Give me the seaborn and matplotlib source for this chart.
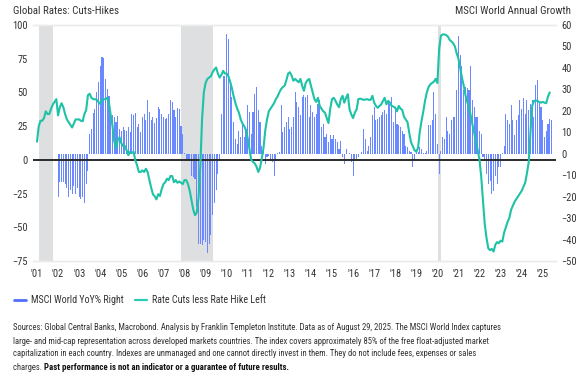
import numpy as np
import pandas as pd
import matplotlib
matplotlib.use("Agg")
import matplotlib.pyplot as plt
import seaborn as sns
from matplotlib import font_manager as fm
from matplotlib.lines import Line2D

# ---------------- data (monthly) ----------------
# Rate cuts less rate hikes (left axis), Jan 2001 .. May 2025
line_2001 = [13.5, 25, 29, 29, 31, 36, 34, 34, 38, 41, 43, 45]
line_2002 = [33, 39, 42, 39, 34, 30, 28, 26, 24, 27, 30, 30]
line_2003 = [30, 29, 28.6, 34, 37, 48, 49, 46, 45, 45, 44.5, 43]
line_2004 = [41.5, 44.5, 45, 45, 46, 42, 33, 25, 14, 8.5, 14.8, 16.8]
line_2005 = [12.3, 10.3, 10.3, 7.2, 3.5, 6, 5.2, 6, -0.3, -4, -9, -9]
line_2006 = [-7.8, -9, -6.6, -9, -15, -20.5, -25.5, -27, -29.3, -25.5, -26.8, -21.7]
line_2007 = [-18, -16.6, -14, -15, -12, -12, -16.6, -15, -17, -16, -17, -18]
line_2008 = [-15, -15, -18, -23, -30, -37, -41, -39, -28, -5, 30, 50]
line_2009 = [57, 60, 61, 62, 65, 67, 68.5, 64, 61, 63, 66, 64]
line_2010 = [64, 62, 58, 53, 47, 42, 38, 35, 30, 27, 25, 22]
line_2011 = [16, 8, 0, -1.5, -2.6, -5, -9, -6, 1, 9, 22, 30]
line_2012 = [36, 38, 40, 42, 45, 47, 50, 52.5, 54, 55, 59, 64]
line_2013 = [65, 62.5, 58.7, 60, 58.7, 57.5, 60, 55, 51.2, 57, 59, 60]
line_2014 = [55, 50, 45, 43, 46, 40, 38, 36, 35, 31, 27.3, 38]
line_2015 = [45, 46, 43.7, 41, 39, 45, 47.5, 42.4, 46, 48.7, 37.4, 33.6]
line_2016 = [31, 35, 37.4, 45, 45.4, 45, 44.5, 44.7, 45, 44.5, 44.5, 47.5]
line_2017 = [42.5, 40, 38.6, 40, 41, 43.7, 46, 41.2, 43.7, 42.4, 40, 39.5]
line_2018 = [38.6, 36, 40, 38, 37, 32, 29.9, 28, 20, 13, 10, 7.2]
line_2019 = [6, 9, 21, 29, 36, 44, 50, 54, 56, 57, 58, 60]
line_2020 = [57, 82, 92, 93, 93, 92.5, 91.4, 89, 87.7, 86.5, 84, 79]
line_2021 = [75, 68, 61, 55, 48, 43, 39, 33, 26, 20, 13, 7]
line_2022 = [0, -13, -30, -48, -58, -65.6, -67, -66, -68, -63, -61, -61.8]
line_2023 = [-60, -60.6, -54, -50, -46, -43, -37, -34, -31, -29, -27, -25]
line_2024 = [-23, -20, -17, -10, -2, 20, 40, 43.7, 44, 43.7, 43, 42.4]
line_2025 = [43, 42.4, 42, 47, 50]

# MSCI World YoY % (right axis), Jan 2002 .. Jun 2025
bar_2002 = [-20, -13, -13, -13, -14, -16, -20, -17, -19, -15, -19, -16]
bar_2003 = [-20, -21, -20, -23, -14, -8, 9.3, 11.6, 19, 21, 29, 33.6]
bar_2004 = [40.7, 45, 44.7, 35, 30, 27, 21, 18, 17, 15, 17.5, 11.6]
bar_2005 = [10.8, 12.4, 11.2, 10.8, 12.4, 10, 18.7, 18, 19, 12.4, 14, 10]
bar_2006 = [17.1, 18.7, 15.9, 25, 19.5, 15.9, 17.1, 14.3, 16.8, 21.9, 21, 18.7]
bar_2007 = [17, 16.4, 16.8, 18.7, 25, 24, 20.6, 17, 21.5, 21, 13, 9.3]
bar_2008 = [0.5, -2.5, -2.5, -3.3, -10.4, -11, -12, -25, -42, -42, -42.6, -40]
bar_2009 = [-41, -46.5, -42, -38, -28.6, -23, -16.7, -9.6, -3.3, 18.7, 36, 36]
bar_2010 = [55.7, 53.3, 32, 26.6, 14.8, 6.9, 4.6, 10.8, 7.7, 14, 7.7, 11.6]
bar_2011 = [22.6, 19.5, 9.3, 19.5, 28, 31.3, 20.3, 14.8, 3.8, 2.2, -5, -1.7]
bar_2012 = [-1, -3, -4, -10.4, -3.3, 0.5, 1, 22.6, 10, 12.4, 14.8, 17]
bar_2013 = [11.6, 12.4, 17, 29, 24, 22, 18, 26.6, 27.4, 26.6, 27.4, 17]
bar_2014 = [22.6, 19.5, 17, 18.7, 23.4, 25, 12.4, 14, 7.7, 9.3, 5.3, 8.5]
bar_2015 = [6.9, 8.5, 6.9, 5.3, 2.2, 6.1, -1.7, -4.6, 2.2, 0, 0.3, -4]
bar_2016 = [-10.4, -3.3, -2.5, -1.7, 0, 0.6, 11.6, 6.9, 1.4, 3.8, 7.7, 18]
bar_2017 = [22, 15.6, 16.4, 17, 18, 19.5, 20.3, 18.7, 24, 23.4, 26.6, 14.8]
bar_2018 = [21, 14, 13.2, 12.4, 10.8, 9.3, 3.8, 3, 1.4, 0.6, -6.4, -3.3]
bar_2019 = [0.6, 0.6, 3, 2.2, 0.5, 0.5, 1.4, 13.2, 13.2, 15.6, 29, 18.7]
bar_2020 = [4.6, -9.6, 1.4, 7.7, 6.9, 17, 10.8, 9.3, 15.6, 17, 17, 29.7]
bar_2021 = [55, 46, 40.7, 29.7, 31.3, 30.5, 29.7, 40.7, 25, 21.9, 17, 17]
bar_2022 = [10.8, 9.3, -1.7, -3.3, -9.6, -14.3, -12.7, -19, -17.5, -10.4, -14.3, -6.4]
bar_2023 = [-6.4, 0.5, 3.8, 18.7, 15.6, 14, 22.6, 15.6, 8.5, 15.6, 18, 25]
bar_2024 = [21, 25.8, 18.7, 25, 20.3, 23.4, 25, 17, 32, 34.4, 24.2, 21.9]
bar_2025 = [15.6, 7.7, 10.8, 14, 16.4, 15.6]

year_labels = ["'01", "'02", "'03", "'04", "'05", "'06", "'07", "'08", "'09", "'10",
               "'11", "'12", "'13", "'14", "'15", "'16", "'17", "'18", "'19", "'20",
               "'21", "'22", "'23", "'24", "'25"]
recessions = [(2001.09, 2001.74), (2007.83, 2009.33), (2020.02, 2020.17)]

line_vals = sum([line_2001, line_2002, line_2003, line_2004, line_2005, line_2006,
                 line_2007, line_2008, line_2009, line_2010, line_2011, line_2012,
                 line_2013, line_2014, line_2015, line_2016, line_2017, line_2018,
                 line_2019, line_2020, line_2021, line_2022, line_2023, line_2024,
                 line_2025], [])
bar_vals = sum([bar_2002, bar_2003, bar_2004, bar_2005, bar_2006, bar_2007, bar_2008,
                bar_2009, bar_2010, bar_2011, bar_2012, bar_2013, bar_2014, bar_2015,
                bar_2016, bar_2017, bar_2018, bar_2019, bar_2020, bar_2021, bar_2022,
                bar_2023, bar_2024, bar_2025], [])

line_df = pd.DataFrame({"t": 2001 + np.arange(len(line_vals)) / 12.0, "v": line_vals})
bar_df = pd.DataFrame({"t": 2002 + np.arange(len(bar_vals)) / 12.0, "v": bar_vals})

# ---------------- style ----------------
sns.set_theme(style="white")
avail = {f.name for f in fm.fontManager.ttflist}
narrow = next((f for f in ["Roboto Condensed", "Liberation Sans Narrow", "Roboto"]
               if f in avail), "DejaVu Sans")
plt.rcParams["font.family"] = [narrow, "DejaVu Sans"]

BLUE = "#6A88FF"
TEAL = "#1EC2A6"
TXT = "#333333"

fig = plt.figure(figsize=(5.85, 3.83), dpi=100)
ax = fig.add_axes([33 / 585, 1 - 261 / 383, (556 - 33) / 585, (261 - 25) / 383])
ax2 = ax.twinx()

# recession shading
for a, b in recessions:
    ax.axvspan(a, b, color="#DEDFE1", lw=0, zorder=0)

# bars (right axis values) on ax
ax.bar(bar_df["t"], bar_df["v"], width=0.62 / 12, color=BLUE, linewidth=0, zorder=2)
ax.set_ylim(-50, 60)
ax.set_yticks(np.arange(-50, 61, 10))
ax.yaxis.tick_right()
ax.yaxis.set_label_position("right")

# line (left axis values) on ax2
ax2.axhline(0, color="#2b2b2b", lw=1.4, zorder=1)
sns.lineplot(data=line_df, x="t", y="v", ax=ax2, color=TEAL, lw=1.5, zorder=3,
             estimator=None, sort=False)
ax2.set_ylim(-75, 100)
ax2.set_yticks(np.arange(-75, 101, 25))
ax2.yaxis.tick_left()
ax2.yaxis.set_label_position("left")

ax.set_xlim(2000.81, 2025.63)
ax.set_xticks(np.arange(2001, 2026))
ax.set_xticklabels(year_labels)
for a in (ax, ax2):
    a.set_xlabel("")
    a.set_ylabel("")
    for s in ["left", "right"]:
        a.spines[s].set_visible(False)
    for s in ["top", "bottom"]:
        a.spines[s].set_color("#EBEBEB")
        a.spines[s].set_linewidth(1.0)
    a.tick_params(length=0, labelsize=7.5, colors=TXT)
ax.tick_params(axis="y", pad=4)
ax2.tick_params(axis="y", pad=4)
ax.tick_params(axis="x", pad=6)
ax.grid(False)
ax2.grid(False)

# titles
fig.text(13 / 585, 1 - 11 / 383, "Global Rates: Cuts-Hikes", fontsize=7.8, color=TXT,
         ha="left", va="center")
fig.text(571 / 585, 1 - 11 / 383, "MSCI World Annual Growth", fontsize=7.8, color=TXT,
         ha="right", va="center")

# legend
handles = [Line2D([], [], color="#4F6EFF", lw=2),
           Line2D([], [], color="#2CCBB5", lw=1.6)]
fig.legend(handles, ["MSCI World YoY% Right", "Rate Cuts less Rate Hike Left"],
           loc="center left", bbox_to_anchor=(5 / 585, 1 - 300 / 383), ncol=2,
           frameon=False, fontsize=7.2, handlelength=1.2, handletextpad=0.5,
           columnspacing=1.1, labelcolor=TXT)

# source note
src = ["Sources: Global Central Banks, Macrobond. Analysis by Franklin Templeton Institute. Data as of August 29, 2025. The MSCI World Index captures",
       "large- and mid-cap representation across developed markets countries. The index covers approximately 85% of the free float-adjusted market",
       "capitalization in each country. Indexes are unmanaged and one cannot directly invest in them. They do not include fees, expenses or sales",
       "charges. "]
bold = "Past performance is not an indicator or a guarantee of future results."
ys = [328, 341, 354, 367]
fig.canvas.draw()
r = fig.canvas.get_renderer()
probe = fig.text(0, 0, src[0], fontsize=7.5)
w = probe.get_window_extent(r).width
probe.remove()
fs = 7.5 * (501 - 13) / w
last = None
for s, y in zip(src, ys):
    last = fig.text(13 / 585, 1 - y / 383, s, fontsize=fs, color=TXT, ha="left", va="center")
ext = last.get_window_extent(r)
fig.text(ext.x1 / fig.bbox.width, 1 - ys[-1] / 383, bold, fontsize=fs * 1.03, color="#111111",
         ha="left", va="center", fontweight="bold")

fig.savefig("out.png", dpi=100)
